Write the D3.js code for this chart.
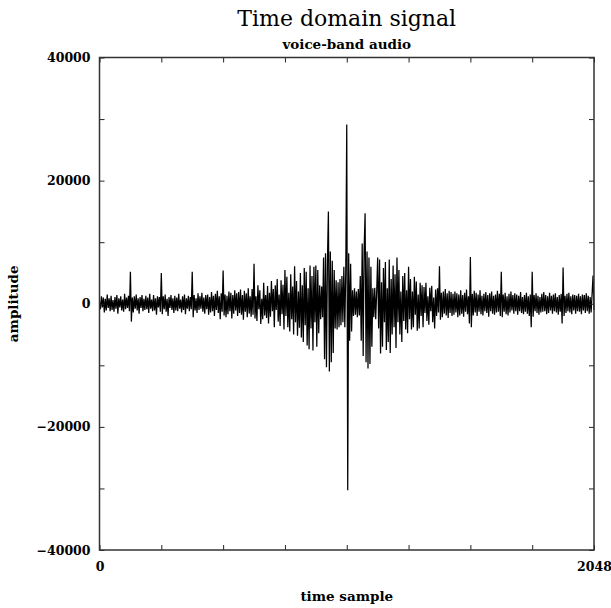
<!DOCTYPE html>
<html>
<head>
<meta charset="utf-8">
<script src="https://cdn.jsdelivr.net/npm/d3@7/dist/d3.min.js"></script>
<style>
  body { margin: 0; background: #fff; }
  svg { display: block; }
  text { font-family: "DejaVu Serif", serif; }
</style>
</head>
<body>
<svg id="chart" width="611" height="608"></svg>
<script>
// one value every 4 time samples, in hundreds of amplitude units
const sampleStep = 4;
const ampUnit = 100;

const leadIn = [
  3, -9, 12, -6, 10, -14, 8, -11, 15, -7, 9, -12, 13, -10, 6, -13,
  11, -8, 14, -16, 9, -6, 12, -11, 7, -13, 16, -9, 10, -7, 13, -12,
  52, -29, 10, -14, 12, -8, 15, -11, 9, -16, 11, -7, 14, -12, 8, -10,
  13, -9, 10, -15, 16, -8, 7, -12, 14, -11, 9, -18, 12, -6, 11, -13,
  50, -17, 12, -9, 15, -13, 8, -20, 11, -7, 14, -10, 9, -15, 13, -11,
  10, -12, 16, -8, 7, -14, 12, -10, 15, -17, 9, -8, 13, -12, 11, -9,
  52, -22, 14, -11, 9, -15, 17, -10, 12, -8, 18, -13, 10, -16, 14, -9,
  15, -18, 11, -14, 19, -12, 13, -20, 16, -10, 21, -15, 12, -25, 17, -13,
  54, -19, 15, -22, 13, -17, 20, -12, 18, -24, 14, -16, 22, -11, 17, -20,
  19, -15, 23, -18, 14, -26, 21, -13, 17, -22, 25, -16, 12, -21, 24, -18,
];

const burst = [
  65, -24, 12, -28, 30, -9, 22, -33, 8, -25, 34, -19, 14, -23, 29, -32,
  18, -21, 37, -12, 24, -38, 30, -10, 40, -29, 15, -36, 38, -17, 31, -42,
  55, -20, 44, -38, 18, -45, 48, -25, 28, -50, 61, -30, 37, -52, 20, -39,
  50, -55, 30, -62, 58, -35, 52, -68, 25, -74, 62, -40, 45, -76, 60, -30,
  62, -70, 55, -48, 30, -25, 28, -22, 75, -90, 82, -103, 70, 150, -110, 85,
  -95, 70, -80, 55, -40, 38, -42, 35, -38, 40, -35, 45, -30, 60, -38, 55,
  291, -303, 82, -60, 65, -45, 22, -20, 25, -18, 20, -22, 24, -19, 45, -60,
  98, -85, 90, 147, -95, 85, -105, 75, -98, 60, -70, 25, -22, 26, -25, 20,
  75, -40, 72, -81, 35, -70, 58, -30, 68, -75, 25, -62, 72, -80, 40, -50,
  62, -38, 48, -72, 75, -30, 55, -50, 20, -62, 45, -28, 50, -42, 22, -48,
  60, -25, 40, -42, 20, -38, 44, -18, 36, -44, 15, -40, 34, -20, 30, -38,
  27, -15, 34, -28, 12, -34, 26, -12, 29, -30, 10, -40, 23, -20, 25, -14,
];

const tail = [
  61, -26, 18, -22, 20, -16, 24, -19, 17, -23, 21, -15, 19, -20, 16, -18,
  20, -14, 17, -22, 15, -19, 22, -16, 14, -21, 18, -13, 23, -17, 12, -32,
  76, -38, 16, -19, 21, -14, 18, -20, 15, -13, 22, -17, 13, -19, 16, -12,
  19, -15, 14, -21, 17, -12, 20, -16, 13, -18, 15, -14, 21, -13, 16, -20,
  52, -22, 15, -13, 18, -17, 12, -19, 16, -14, 20, -11, 14, -16, 17, -12,
  15, -18, 13, -12, 19, -15, 11, -17, 14, -13, 18, -16, 12, -20, 15, -38,
  52, -21, 14, -12, 17, -15, 13, -18, 11, -14, 16, -13, 19, -12, 14, -17,
  12, -15, 18, -11, 13, -16, 15, -12, 17, -14, 11, -18, 14, -13, 16, -32,
  59, -20, 13, -15, 16, -12, 18, -14, 12, -17, 15, -11, 14, -16, 13, -12,
  16, -13, 12, -17, 15, -11, 14, -15, 17, -12, 13, -16, 11, -14, 15, 46,
  -10,
];

const xTicks = [0, 256, 512, 768, 1024, 1280, 1536, 1792, 2048];
const xLabels = [0, 2048];
const yTicks = [-40000, -30000, -20000, -10000, 0, 10000, 20000, 30000, 40000];
const yLabels = [-40000, -20000, 0, 20000, 40000];

const signal = leadIn.concat(burst, tail).map((v, i) => ({ t: i * sampleStep, a: v * ampUnit }));

const svg = d3.select('#chart');
const plotLeft = 99.5, plotRight = 594, plotTop = 57.5, plotBottom = 550;

const x = d3.scaleLinear().domain([0, 2048]).range([plotLeft, plotRight]);
const y = d3.scaleLinear().domain([-40000, 40000]).range([plotBottom, plotTop]);

// signal trace
svg.append('path')
  .datum(signal)
  .attr('fill', 'none')
  .attr('stroke', '#000')
  .attr('stroke-width', 1.25)
  .attr('d', d3.line().x((d) => x(d.t)).y((d) => y(d.a)));

// axes, ticks pointing inward; only some ticks carry a label
const num = d3.format('d');
const fmtX = (d) => (xLabels.includes(d) ? num(d) : '');
const fmtY = (d) => (yLabels.includes(d) ? num(d) : '');

const axes = [
  { axis: d3.axisBottom(x).tickValues(xTicks).tickFormat(fmtX).tickPadding(12), at: `translate(0,${plotBottom})` },
  { axis: d3.axisTop(x).tickValues(xTicks).tickFormat(() => ''), at: `translate(0,${plotTop})` },
  { axis: d3.axisLeft(y).tickValues(yTicks).tickFormat(fmtY).tickPadding(9), at: `translate(${plotLeft},0)` },
  { axis: d3.axisRight(y).tickValues(yTicks).tickFormat(() => ''), at: `translate(${plotRight},0)` },
];

axes.forEach(({ axis, at }) => {
  const g = svg.append('g')
    .attr('transform', at)
    .call(axis.tickSizeInner(-5).tickSizeOuter(0));
  g.select('.domain').remove();
  g.selectAll('.tick line').attr('stroke', '#222').attr('stroke-width', 1);
  g.selectAll('.tick text')
    .attr('font-family', '"DejaVu Serif", serif')
    .attr('font-weight', 'bold')
    .attr('font-size', 12.5)
    .attr('fill', '#000');
});

// plot frame
svg.append('rect')
  .attr('x', plotLeft)
  .attr('y', plotTop)
  .attr('width', plotRight - plotLeft)
  .attr('height', plotBottom - plotTop)
  .attr('fill', 'none')
  .attr('stroke', '#333')
  .attr('stroke-width', 1.5);

const cx = (plotLeft + plotRight) / 2;

svg.append('text')
  .attr('x', cx)
  .attr('y', 26)
  .attr('text-anchor', 'middle')
  .attr('font-size', 22)
  .text('Time domain signal');

svg.append('text')
  .attr('x', cx)
  .attr('y', 49)
  .attr('text-anchor', 'middle')
  .attr('font-size', 13.5)
  .attr('font-weight', 'bold')
  .text('voice-band audio');

svg.append('text')
  .attr('x', cx)
  .attr('y', 601)
  .attr('text-anchor', 'middle')
  .attr('font-size', 13.5)
  .attr('font-weight', 'bold')
  .text('time sample');

svg.append('text')
  .attr('transform', `translate(18,${(plotTop + plotBottom) / 2}) rotate(-90)`)
  .attr('text-anchor', 'middle')
  .attr('font-size', 13.5)
  .attr('font-weight', 'bold')
  .text('amplitude');
</script>
</body>
</html>
